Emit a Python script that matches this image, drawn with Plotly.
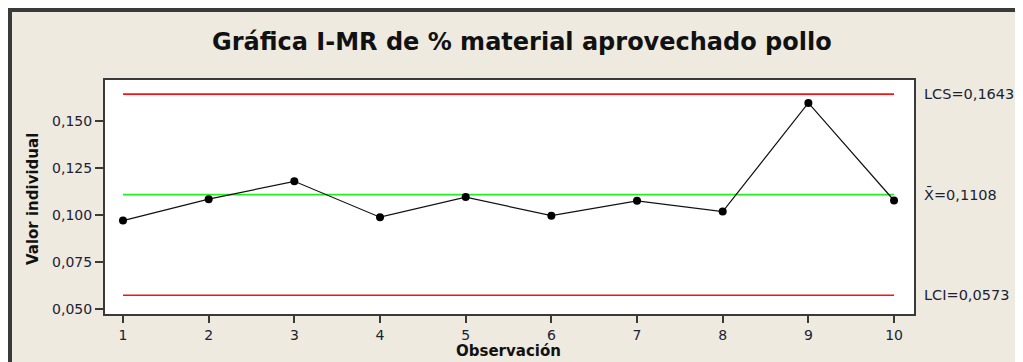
import plotly.graph_objects as go

# ---- data ----
observacion = [1, 2, 3, 4, 5, 6, 7, 8, 9, 10]
valor_individual = [0.0970, 0.1084, 0.1179, 0.0988, 0.1095, 0.0996, 0.1075, 0.1018, 0.1596, 0.1077]
lcs = 0.1643
media = 0.1108
lci = 0.0573
y_ticks = [0.050, 0.075, 0.100, 0.125, 0.150]
titulo = "Gráfica I-MR de % material aprovechado pollo"
etiquetas = ["LCS=0,1643", "X\u0304=0,1108", "LCI=0,0573"]

# figure is placed at page offset (8, 8) by the page body margin
W, H = 1013, 354
L, R, T, B = 97, 906, 72, 306
BEIGE = "#EEEAE0"
DARK = "#3a3a3a"
TXT = "#1b2233"


def px(xp):
    return (xp - L) / (R - L)


def py(yp):
    return (B - yp) / (B - T)


fig = go.Figure()

x0, x1 = observacion[0], observacion[-1]
fig.add_trace(go.Scatter(x=[x0, x1], y=[lcs, lcs], mode="lines",
                         line=dict(color="#ff1010", width=1.6), hoverinfo="skip"))
fig.add_trace(go.Scatter(x=[x0, x1], y=[lci, lci], mode="lines",
                         line=dict(color="#ff1010", width=1.6), hoverinfo="skip"))
fig.add_trace(go.Scatter(x=[x0, x1], y=[media, media], mode="lines",
                         line=dict(color="#22ee22", width=1.6), hoverinfo="skip"))
fig.add_trace(go.Scatter(x=observacion, y=valor_individual, mode="lines+markers",
                         line=dict(color="#111111", width=1.2),
                         marker=dict(color="#000000", size=8)))

shapes = [
    dict(type="rect", xref="paper", yref="paper", x0=px(2), x1=px(W - 2), y0=py(2), y1=py(H + 20),
         fillcolor="rgba(0,0,0,0)", line=dict(color=DARK, width=4), layer="above"),
]

annotations = [
    dict(text="<b>" + titulo + "</b>", xref="paper", yref="paper", x=px(514), y=py(34),
         showarrow=False, font=dict(family="DejaVu Sans", size=24, color="#111111"),
         xanchor="center", yanchor="middle"),
    dict(text="<b>Valor individual</b>", xref="paper", yref="paper", x=px(25), y=py(191),
         showarrow=False, textangle=-90, font=dict(family="DejaVu Sans", size=15, color="#111111"),
         xanchor="center", yanchor="middle"),
    dict(text="<b>Observación</b>", xref="paper", yref="paper", x=px(500), y=py(343),
         showarrow=False, font=dict(family="DejaVu Sans", size=15, color="#111111"),
         xanchor="center", yanchor="middle"),
]
for lab, val in zip(etiquetas, [lcs, media, lci]):
    annotations.append(dict(text=lab, xref="paper", yref="y", x=px(914), y=val,
                            showarrow=False, xanchor="left", yanchor="middle",
                            font=dict(family="DejaVu Sans", size=14.5, color=TXT)))

fig.update_layout(
    width=W, height=H,
    margin=dict(l=L, r=W - R, t=T, b=H - B, pad=0),
    paper_bgcolor=BEIGE, plot_bgcolor="white",
    showlegend=False,
    separators=",.",
    shapes=shapes, annotations=annotations,
    xaxis=dict(range=[0.79, 10.233], tickvals=observacion, ticktext=[str(v) for v in observacion],
               showgrid=False, zeroline=False, showline=True, mirror=True,
               linecolor=DARK, linewidth=2, ticks="outside", ticklen=7, tickwidth=1.5,
               tickcolor=DARK, tickfont=dict(family="DejaVu Sans", size=14, color=TXT)),
    yaxis=dict(range=[0.0473, 0.1718], tickvals=y_ticks, tickformat=".3f",
               showgrid=False, zeroline=False, showline=True, mirror=True,
               linecolor=DARK, linewidth=2, ticks="outside", ticklen=8, tickwidth=1.5,
               tickcolor=DARK, tickfont=dict(family="DejaVu Sans", size=14, color=TXT)),
)

fig.write_html("out.html")
